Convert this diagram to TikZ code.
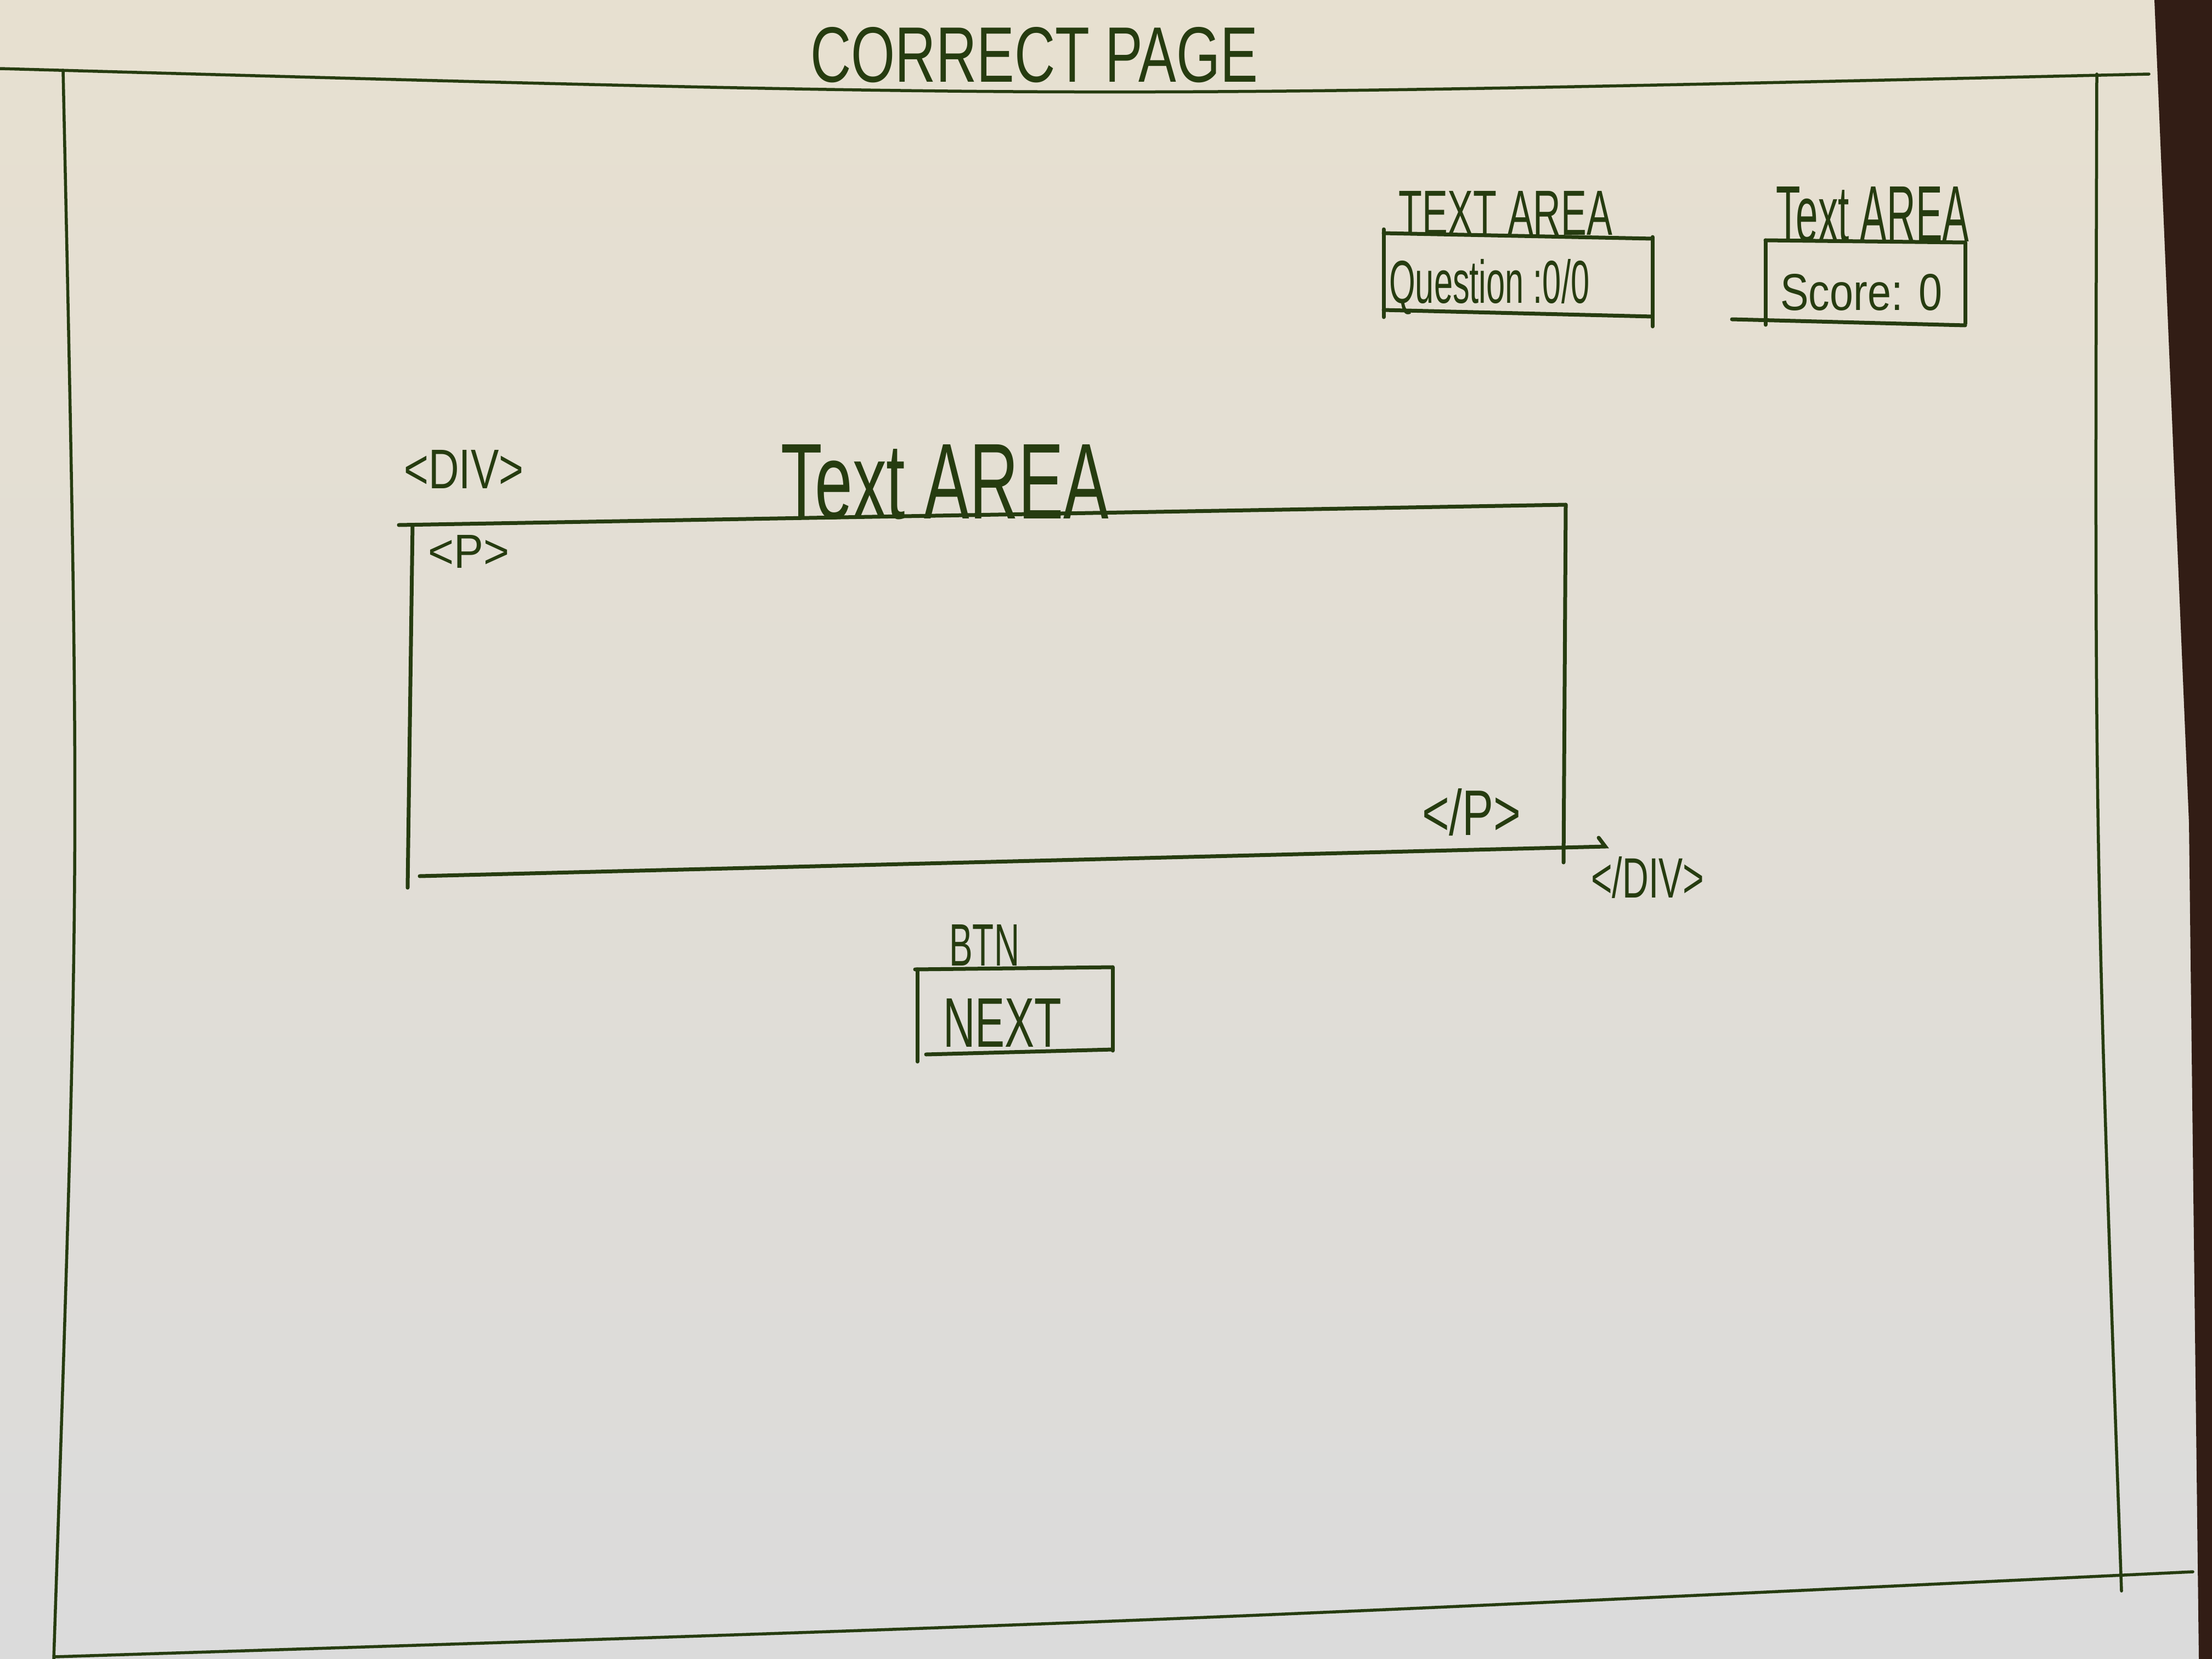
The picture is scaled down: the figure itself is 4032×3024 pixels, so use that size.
\documentclass[tikz,border=0pt]{standalone}
\usepackage{fontspec}
\setmainfont{Liberation Sans}
\usepackage{graphicx}
\definecolor{ink}{RGB}{38,60,16}
\definecolor{papertop}{RGB}{231,224,208}
\definecolor{paperbot}{RGB}{219,219,219}
\definecolor{wood}{RGB}{50,29,21}
\newcommand{\hw}[3]{\resizebox{#1pt}{#2pt}{#3}}
\begin{document}
\begin{tikzpicture}[x=1pt,y=-1pt,
  frameline/.style={draw=ink,line width=5.5pt,line cap=round},
  inkline/.style={draw=ink,line width=7pt,line cap=round},
  lbl/.style={inner sep=0pt,anchor=base west,text=ink}]
\useasboundingbox (0,0) rectangle (4032,3024);
% paper and table
\shade[top color=papertop,bottom color=paperbot] (0,0) rectangle (4032,3024);
\fill[wood] (3927,0) -- (4032,0) -- (4032,3024) -- (4008,3024) -- (3990,1500) -- cycle;

% outer page frame
\coordinate (tl) at (0,125);   \coordinate (tr) at (3917,135);
\coordinate (lt) at (115,128); \coordinate (lb) at (98,3024);
\coordinate (rt) at (3822,135);\coordinate (rb) at (3867,2900);
\coordinate (bl) at (100,3020);\coordinate (br) at (3997,2865);
\draw[frameline] (tl) .. controls (1958,180) .. (tr);
\draw[frameline] (lt) .. controls (146,1576) .. (lb);
\draw[frameline] (rt) .. controls (3818,1517) .. (rb);
\draw[frameline] (bl) .. controls (2048,2958) .. (br);

% title
\node[lbl] (title) at (1477,150) {\hw{816}{100}{CORRECT PAGE}};

% question box
\node[lbl] (qlabel) at (2549,428) {\hw{390}{80}{TEXT AREA}};
\coordinate (q1) at (2522,425); \coordinate (q2) at (3012,435);
\coordinate (q3) at (3012,577); \coordinate (q4) at (2522,565);
\draw[inkline] (q1) -- (q2);
\draw[inkline] (3012,432) -- (3012,595);
\draw[inkline] (q4) -- (q3);
\draw[inkline] (2522,418) -- (2522,578);
\node[lbl] (qtext) at (2532,552) {\hw{365}{80}{Question :0/0}};

% score box
\node[lbl] (slabel) at (3237,440) {\hw{352}{100}{Text AREA}};
\coordinate (s1) at (3218,438); \coordinate (s2) at (3582,442);
\coordinate (s3) at (3582,593); \coordinate (s4) at (3157,582);
\draw[inkline] (s1) -- (s2);
\draw[inkline] (s2) -- (3582,590);
\draw[inkline] (s4) -- (s3);
\draw[inkline] (s1) -- (3218,592);
\node[lbl] (stext) at (3245,565) {\hw{295}{66}{Score: 0}};

% div / text area
\node[lbl] (div) at (736,890) {\hw{218}{70}{<DIV>}};
\node[lbl] (tarea) at (1423,945) {\hw{598}{135}{Text AREA}};
\coordinate (d1) at (727,957);  \coordinate (d2) at (2854,920);
\coordinate (d3) at (2850,1572); \coordinate (d4) at (743,1618);
\coordinate (d5) at (765,1597); \coordinate (d6) at (2926,1543);
\coordinate (d7) at (2914,1527);
\draw[inkline] (d1) -- (d2);
\draw[inkline] (752,957) -- (d4);
\draw[inkline] (d2) -- (d3);
\draw[inkline] (d5) -- (d6) -- (d7);
\node[lbl] (popen) at (780,1035) {\hw{148}{60}{<P>}};
\node[lbl] (pclose) at (2592,1522) {\hw{180}{85}{</P>}};
\node[lbl] (divclose) at (2900,1636) {\hw{206}{75}{</DIV>}};

% button
\node[lbl] (btn) at (1730,1760) {\hw{128}{75}{BTN}};
\coordinate (b1) at (1668,1767); \coordinate (b2) at (2028,1763);
\coordinate (b3) at (2028,1915); \coordinate (b4) at (1688,1922);
\draw[inkline] (b1) -- (b2);
\draw[inkline] (1672,1767) -- (1672,1935);
\draw[inkline] (b2) -- (b3);
\draw[inkline] (b4) -- (2028,1913);
\node[lbl] (next) at (1719,1908) {\hw{216}{88}{NEXT}};
\end{tikzpicture}
\end{document}
